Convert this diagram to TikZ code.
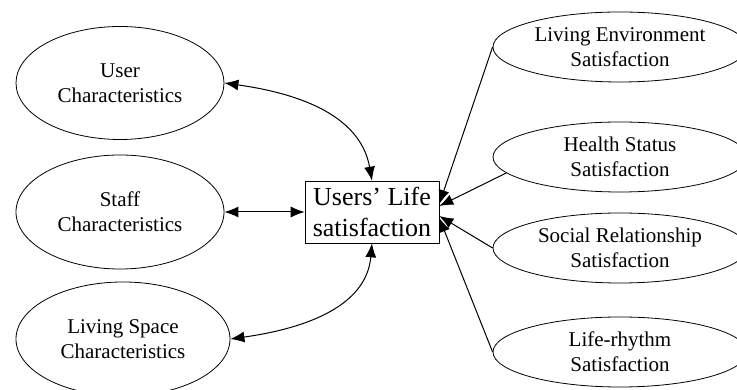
\documentclass[tikz,border=0pt]{standalone}
\usepackage{fontspec}
\setmainfont{Liberation Serif}
\usetikzlibrary{shapes.geometric,arrows.meta}
\begin{document}
\begin{tikzpicture}[x=1pt, y=1pt, >={Latex[length=14pt,width=11pt]},
  factor/.style={ellipse, draw, line width=0.8pt, inner sep=0pt, align=center, font=\fontsize{21}{25}\selectfont},
  outcome/.style={draw, line width=0.6pt, inner sep=0pt, minimum width=134pt, minimum height=62pt, align=center, font=\fontsize{26}{31}\selectfont}]
\useasboundingbox (0,0) rectangle (737,390);

\node[factor, minimum width=208pt, minimum height=113pt] (user) at (120,307) {User\\Characteristics};
\node[factor, minimum width=208pt, minimum height=114pt] (staff) at (120,178) {Staff\\Characteristics};
\node[factor, minimum width=214pt, minimum height=114pt] (space) at (123,51) {Living Space\\Characteristics};
\node[outcome] (life) at (372,178) {Users’ Life\\satisfaction};

\foreach \n/\y/\txt in {env/343/Living Environment, health/233/Health Status, social/142/Social Relationship, rhythm/38/Life-rhythm}
{
    \node[factor, minimum width=254pt, minimum height=70pt] (\n) at (620,\y) {\txt\\Satisfaction};
}

\draw[<->, line width=1pt] (user.east) to[out=-8, in=100] (life.north);
\draw[<->, line width=1pt] (staff) -- (life);
\draw[<->, line width=1pt] (space.east) to[out=8, in=-95] (life.south);

\draw[->, line width=1pt] (env.west) -- ([yshift=8pt]life.east);
\draw[->, line width=1pt] (health.188) -- ([yshift=6pt]life.east);
\draw[->, line width=1pt] (social.west) -- ([yshift=-4pt]life.east);
\draw[->, line width=1pt] (rhythm.west) -- ([yshift=-6pt]life.east);

\end{tikzpicture}
\end{document}
